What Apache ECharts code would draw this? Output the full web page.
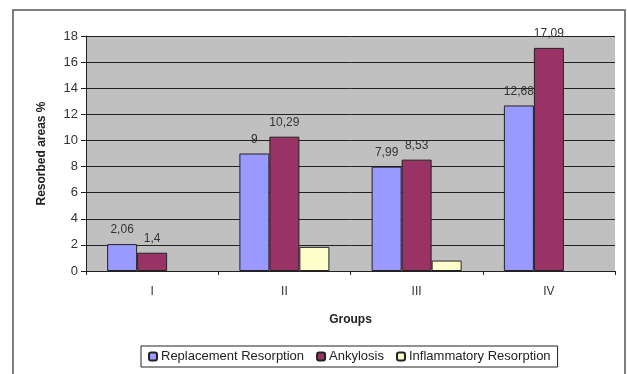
<!DOCTYPE html>
<html><head><meta charset="utf-8">
<script src="https://cdn.jsdelivr.net/npm/echarts@6/dist/echarts.min.js"></script>
<style>html,body{margin:0;padding:0;background:#fff}#c{width:627px;height:374px}</style>
</head><body><div id="c"></div>
<script>
const categories = ['I', 'II', 'III', 'IV'];
const replacement = [2.06, 9, 7.99, 12.68];
const ankylosis = [1.4, 10.29, 8.53, 17.09];
const inflammatory = [null, 1.85, 0.8, null];
const seriesNames = ['Replacement Resorption', 'Ankylosis', 'Inflammatory Resorption'];

const chart = echarts.init(document.getElementById('c'));
const fmt = p => String(p.value).replace('.', ',');
const lbl = {show: true, position: 'top', distance: 8, formatter: fmt, color: '#333', fontSize: 12, fontFamily: 'Liberation Sans'};
const bstyle = c => ({color: c, borderColor: '#222', borderWidth: 1});
chart.setOption({
  animation: false,
  graphic: [{type: 'rect', shape: {x: 13, y: 10, width: 612, height: 380}, style: {fill: 'none', stroke: '#555', lineWidth: 1.5}, z: 0}],
  grid: {left: 86, right: 12, top: 36, bottom: 103, show: true, backgroundColor: '#c0c0c0', borderWidth: 0},
  legend: {
    data: seriesNames, bottom: 7, left: 141, itemWidth: 8, itemHeight: 8, itemGap: 12,
    borderColor: '#222', borderWidth: 1, padding: [4, 7],
    textStyle: {fontSize: 13, fontFamily: 'Liberation Sans', color: '#222', padding: [0, 0, 0, -1]}
  },
  xAxis: {
    type: 'category', data: categories, name: 'Groups', nameLocation: 'middle', nameGap: 43,
    nameTextStyle: {fontWeight: 'bold', fontSize: 12, fontFamily: 'Liberation Sans', color: '#222'},
    axisLine: {lineStyle: {color: '#222'}}, axisTick: {show: true, alignWithLabel: false, length: 4, lineStyle: {color: '#222'}},
    axisLabel: {fontSize: 12, fontFamily: 'Liberation Sans', color: '#333', margin: 15}
  },
  yAxis: {
    type: 'value', min: 0, max: 18, interval: 2, name: 'Resorbed areas %', nameLocation: 'middle', nameGap: 38,
    nameTextStyle: {fontWeight: 'bold', fontSize: 12, fontFamily: 'Liberation Sans', color: '#222'},
    axisLine: {show: true, lineStyle: {color: '#222'}}, axisTick: {show: true, length: 5, lineStyle: {color: '#222'}},
    axisLabel: {fontSize: 13, fontFamily: 'Liberation Sans', color: '#333', margin: 8},
    splitLine: {lineStyle: {color: '#222', width: 1}}
  },
  series: [
    {name: seriesNames[0], type: 'bar', data: replacement, barWidth: 30, barGap: '0%', itemStyle: bstyle('#9999ff'), label: lbl},
    {name: seriesNames[1], type: 'bar', data: ankylosis, barWidth: 30, barGap: '0%', itemStyle: bstyle('#993366'), label: lbl},
    {name: seriesNames[2], type: 'bar', data: inflammatory, barWidth: 30, barGap: '0%', itemStyle: bstyle('#ffffcc')}
  ]
});
</script></body></html>
